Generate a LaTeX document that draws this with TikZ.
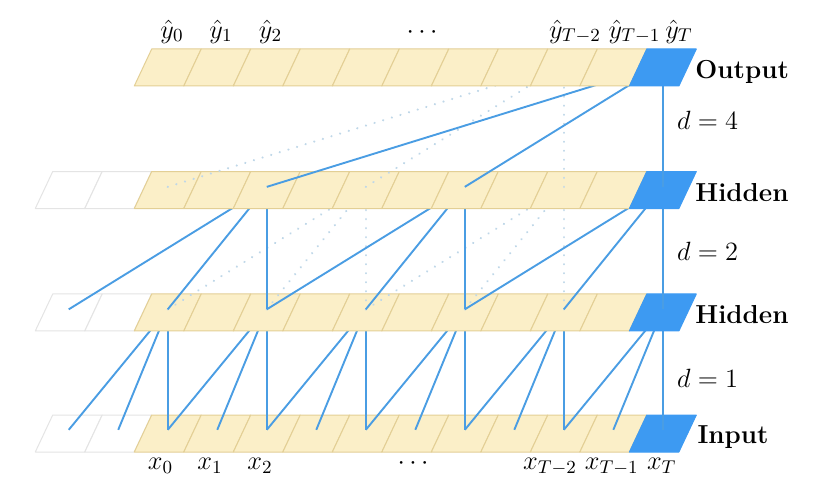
\RequirePackage{fix-cm}
\documentclass[tikz,border=0pt]{standalone}
\usepackage{xcolor}
\usepackage{tikz}
\usetikzlibrary{calc}
\definecolor{tyellow}{HTML}{FBEFC8}
\definecolor{tedge}{HTML}{E3CF95}
\definecolor{tblue}{HTML}{3D9AF2}
\definecolor{tline}{HTML}{4A9DE3}
\definecolor{tdot}{HTML}{BFD7E8}
\definecolor{tpad}{HTML}{E4E4E4}

% one slanted cell: style, index, bottom y
\newcommand{\tcncell}[3]{%
  \path[#1] ({2.360+0.870*#2},#3) -- ++(0.870,0) -- ++(0.306,0.650) -- ++(-0.870,0) -- cycle;}

\begin{document}
\begin{tikzpicture}[x=1cm, y=1cm,
  cellbox/.style={fill=tyellow, draw=tedge, line width=0.5pt, line join=round},
  padbox/.style={fill=white, draw=tpad, line width=0.5pt, line join=round},
  lastbox/.style={fill=tblue, draw=tblue, line width=0.5pt, line join=round},
  conn/.style={draw=tline, line width=0.95pt},
  ghost/.style={draw=tdot, line width=1.2pt, dash pattern=on 0.01pt off 4.5pt, line cap=round},
  steplabel/.style={font=\fontsize{13.2}{15}\selectfont, anchor=base},
  layerlabel/.style={font=\fontsize{13}{15}\selectfont\bfseries, anchor=base west, inner sep=0pt}]

  \useasboundingbox (0,0) rectangle (14.445,8.716);

  %% cell centres (line ends)
  \foreach \k in {-2,...,10}{
    \coordinate (in-\k) at ({2.948+0.870*\k},1.163);
    \coordinate (hA-\k) at ({2.948+0.870*\k},3.280);
    \coordinate (hB-\k) at ({2.948+0.870*\k},5.432);
  }
  \foreach \k in {0,...,10}{
    \coordinate (out-\k) at ({2.948+0.870*\k},7.585);
  }

  %% Input layer
  \foreach \k in {-2,-1}{\tcncell{padbox}{\k}{0.773}}
  \foreach \k in {0,...,9}{\tcncell{cellbox}{\k}{0.773}}
  \tcncell{lastbox}{10}{0.773}

  %% d = 1
  \foreach \j [evaluate=\j as \a using int(\j-2), evaluate=\j as \b using int(\j-1)] in {0,2,...,10}{
    \draw[conn] (in-\a) -- (hA-\j);
    \draw[conn] (in-\b) -- (hA-\j);
    \draw[conn] (in-\j) -- (hA-\j);
  }

  %% First hidden layer
  \foreach \k in {-2,-1}{\tcncell{padbox}{\k}{2.900}}
  \foreach \k in {0,...,9}{\tcncell{cellbox}{\k}{2.900}}
  \tcncell{lastbox}{10}{2.900}

  %% d = 2
  \foreach \j [evaluate=\j as \a using int(\j-4), evaluate=\j as \b using int(\j-2)] in {4,8}{
    \draw[ghost] (hA-\a) -- (hB-\j);
    \draw[ghost] (hA-\b) -- (hB-\j);
    \draw[ghost] (hA-\j) -- (hB-\j);
  }
  \foreach \j [evaluate=\j as \a using int(\j-4), evaluate=\j as \b using int(\j-2)] in {2,6,10}{
    \draw[conn] (hA-\a) -- (hB-\j);
    \draw[conn] (hA-\b) -- (hB-\j);
    \draw[conn] (hA-\j) -- (hB-\j);
  }

  %% Second hidden layer
  \foreach \k in {-2,-1}{\tcncell{padbox}{\k}{5.052}}
  \foreach \k in {0,...,9}{\tcncell{cellbox}{\k}{5.052}}
  \tcncell{lastbox}{10}{5.052}

  %% d = 4
  \foreach \i in {0,4,8}{\draw[ghost] (hB-\i) -- (out-8);}
  \foreach \i in {2,6,10}{\draw[conn] (hB-\i) -- (out-10);}

  %% Output layer
  \foreach \k in {0,...,9}{\tcncell{cellbox}{\k}{7.205}}
  \tcncell{lastbox}{10}{7.205}

  %% Labels
  \foreach \xpos/\lab [count=\i] in {3.023/{$\hat{y}_0$}, 3.884/{$\hat{y}_1$}, 4.753/{$\hat{y}_2$},
      7.416/{$\cdots$}, 10.104/{$\hat{y}_{T-2}$}, 11.150/{$\hat{y}_{T-1}$}, 11.932/{$\hat{y}_T$}}{
    \node[steplabel] (yh-\i) at (\xpos,8.048) {\lab};
  }
  \foreach \xpos/\lab [count=\i] in {2.820/{$x_0$}, 3.690/{$x_1$}, 4.569/{$x_2$},
      7.258/{$\cdots$}, 9.665/{$x_{T-2}$}, 10.749/{$x_{T-1}$}, 11.628/{$x_T$}}{
    \node[steplabel] (x-\i) at (\xpos,0.457) {\lab};
  }

  \node[layerlabel] (lab-out) at (12.213,7.345) {Output};
  \node[layerlabel] (lab-hB) at (12.213,5.172) {Hidden};
  \node[layerlabel] (lab-hA) at (12.213,3.035) {Hidden};
  \node[layerlabel] (lab-in) at (12.250,0.914) {Input};

  \node[steplabel, anchor=base west, inner sep=0pt] (dil-4) at (11.891,6.449) {$d=4$};
  \node[steplabel, anchor=base west, inner sep=0pt] (dil-2) at (11.891,4.130) {$d=2$};
  \node[steplabel, anchor=base west, inner sep=0pt] (dil-1) at (11.891,1.915) {$d=1$};

\end{tikzpicture}
\end{document}
